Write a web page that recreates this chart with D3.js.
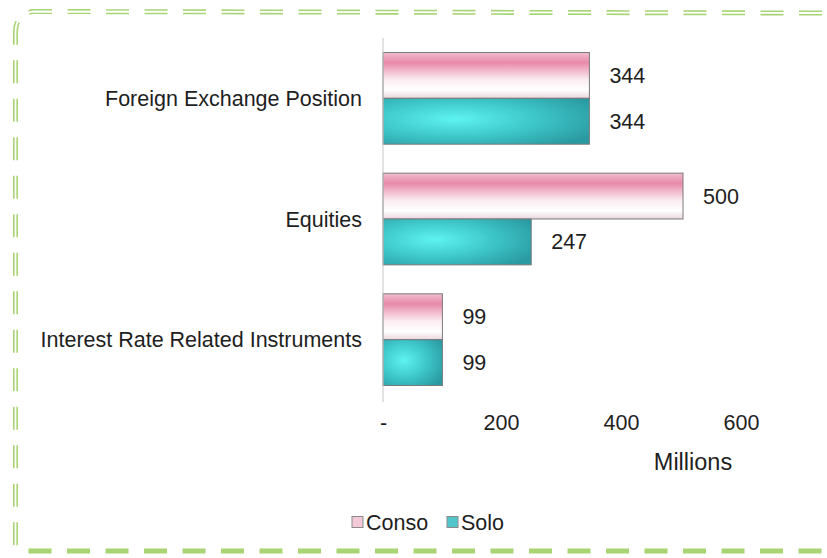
<!DOCTYPE html>
<html>
<head>
<meta charset="utf-8">
<script src="https://cdn.jsdelivr.net/npm/d3@7"></script>
<style>
  body { margin: 0; background: #fff; }
  text { font-family: "Liberation Sans", Arial, sans-serif; fill: #1e1e1e; }
</style>
</head>
<body>
<script>
var categories = ["Foreign Exchange Position", "Equities", "Interest Rate Related Instruments"];
var seriesNames = ["Conso", "Solo"];
var conso = [344, 500, 99];
var solo = [344, 247, 99];
var tickValues = [0, 200, 400, 600];
var tickLabels = ["-", "200", "400", "600"];

var width = 827, height = 558;
var svg = d3.select("body").append("svg")
    .attr("width", width)
    .attr("height", height);

var defs = svg.append("defs");

// pink bars: light vertical gradient
var pink = defs.append("linearGradient")
    .attr("id", "pink").attr("x1", 0).attr("y1", 0).attr("x2", 0).attr("y2", 1);
pink.append("stop").attr("offset", "0%").attr("stop-color", "#f0bccd");
pink.append("stop").attr("offset", "22%").attr("stop-color", "#e88aaa");
pink.append("stop").attr("offset", "60%").attr("stop-color", "#fbedf2");
pink.append("stop").attr("offset", "82%").attr("stop-color", "#ffffff");
pink.append("stop").attr("offset", "100%").attr("stop-color", "#ead6de");

// teal bars: radial glow
var teal = defs.append("radialGradient")
    .attr("id", "teal").attr("cx", "0.35").attr("cy", "0.45").attr("r", "0.75");
teal.append("stop").attr("offset", "0%").attr("stop-color", "#5df3f0");
teal.append("stop").attr("offset", "55%").attr("stop-color", "#3cc4c6");
teal.append("stop").attr("offset", "100%").attr("stop-color", "#2a9aa2");

var fills = ["url(#pink)", "url(#teal)"];
var legendFills = ["#f5c8d8", "#52c6ca"];

// dashed green frame (double line on top and left)
var frame = "M822,13 L34,11.5 Q16,13 15.5,32 L15.5,546 L22,551 L822,551";
svg.append("path")
    .attr("d", frame)
    .attr("fill", "none")
    .attr("stroke", "#a9d474")
    .attr("stroke-width", 5)
    .attr("stroke-dasharray", "23,15.5");
svg.append("path")
    .attr("d", "M822,13 L34,11.5 Q16,13 15.5,32 L15.5,546")
    .attr("fill", "none")
    .attr("stroke", "#fff")
    .attr("stroke-width", 1.8);

var x = d3.scaleLinear().domain([0, 600]).range([383, 743]);
var y0 = d3.scaleBand().domain(categories).range([38, 400]).paddingInner(0.24).paddingOuter(0.12);
var y1 = d3.scaleBand().domain(seriesNames).range([0, y0.bandwidth()]);

var rows = categories.map(function (c, i) {
    return { cat: c, vals: [conso[i], solo[i]] };
});

var groups = svg.selectAll(".grp")
    .data(rows)
    .enter().append("g")
    .attr("class", "grp")
    .attr("transform", function (d) { return "translate(0," + y0(d.cat) + ")"; });

groups.selectAll("rect")
    .data(function (d) { return d.vals.map(function (v, j) { return { v: v, s: seriesNames[j], j: j }; }); })
    .enter().append("rect")
    .attr("x", x(0))
    .attr("y", function (d) { return y1(d.s); })
    .attr("width", function (d) { return x(d.v) - x(0); })
    .attr("height", y1.bandwidth())
    .attr("fill", function (d) { return fills[d.j]; })
    .attr("stroke", "#7a7a7a")
    .attr("stroke-width", 1);

groups.selectAll(".val")
    .data(function (d) { return d.vals.map(function (v, j) { return { v: v, s: seriesNames[j] }; }); })
    .enter().append("text")
    .attr("class", "val")
    .attr("x", function (d) { return x(d.v) + 20; })
    .attr("y", function (d) { return y1(d.s) + y1.bandwidth() / 2; })
    .attr("dy", "0.35em")
    .attr("font-size", 21.5)
    .text(function (d) { return d.v; });

// category axis line and labels
svg.append("line")
    .attr("x1", x(0)).attr("x2", x(0))
    .attr("y1", 38).attr("y2", 402)
    .attr("stroke", "#c8c8c8");

svg.selectAll(".cat")
    .data(categories)
    .enter().append("text")
    .attr("class", "cat")
    .attr("x", 362)
    .attr("y", function (d) { return y0(d) + y0.bandwidth() / 2; })
    .attr("dy", "0.35em")
    .attr("text-anchor", "end")
    .attr("font-size", 21.5)
    .text(function (d) { return d; });

// value axis
var xAxis = d3.axisBottom(x)
    .tickValues(tickValues)
    .tickSize(0)
    .tickPadding(0)
    .tickFormat(function (d, i) { return tickLabels[i]; });

var ax = svg.append("g")
    .attr("transform", "translate(0,415)")
    .call(xAxis);
ax.select(".domain").remove();
ax.selectAll("text")
    .attr("font-size", 21.5)
    .attr("fill", "#1e1e1e")
    .attr("dx", function (d) { return d === 0 ? "0" : "-2"; })
    .style("font-family", "Liberation Sans, Arial, sans-serif");

svg.append("text")
    .attr("x", 693)
    .attr("y", 470)
    .attr("text-anchor", "middle")
    .attr("font-size", 23.5)
    .text("Millions");

// legend
var legend = svg.append("g").attr("transform", "translate(352,522)");
var lx = [0, 95];
seriesNames.forEach(function (s, i) {
    legend.append("rect")
        .attr("x", lx[i]).attr("y", -5.5)
        .attr("width", 11).attr("height", 11)
        .attr("fill", legendFills[i])
        .attr("stroke", "#8a8a8a");
    legend.append("text")
        .attr("x", lx[i] + 14).attr("y", 0)
        .attr("dy", "0.35em")
        .attr("font-size", 21.5)
        .text(s);
});
</script>
</body>
</html>
